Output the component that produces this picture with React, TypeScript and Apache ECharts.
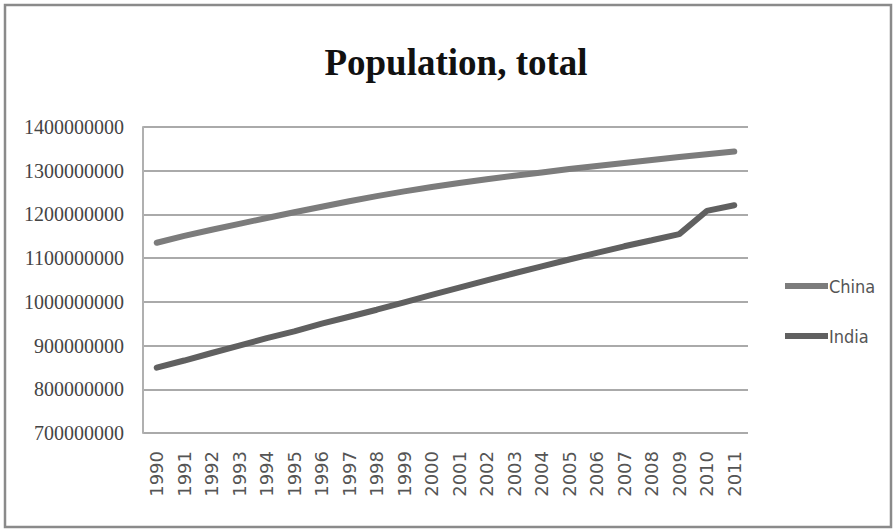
import React, { useEffect, useRef } from "react";
import * as echarts from "echarts";

const years = ["1990","1991","1992","1993","1994","1995","1996","1997","1998","1999","2000","2001","2002","2003","2004","2005","2006","2007","2008","2009","2010","2011"];
const china = [1135185000,1150780000,1164970000,1178440000,1191835000,1204855000,1217550000,1230075000,1241935000,1252735000,1262645000,1271850000,1280400000,1288400000,1296075000,1303720000,1311020000,1317885000,1324655000,1331260000,1337705000,1344130000];
const india = [849500000,865800000,883000000,900000000,917000000,932500000,950000000,966000000,982000000,999000000,1015900000,1032500000,1049000000,1065500000,1081200000,1096900000,1112200000,1127100000,1141000000,1155000000,1208000000,1221000000];
const yMin = 700000000;
const yMax = 1400000000;
const yStep = 100000000;

export default function App() {
  const ref = useRef<HTMLDivElement>(null);
  useEffect(() => {
    if (!ref.current) return;
    const chart = echarts.init(ref.current, undefined, { renderer: "svg" });
    chart.setOption({
      animation: false,
      backgroundColor: "#ffffff",
      title: {
        text: "Population, total",
        left: 451,
        textAlign: "center",
        top: 39,
        textStyle: { fontFamily: "Liberation Serif", fontWeight: "bold", fontSize: 37, color: "#111" },
      },
      graphic: [
        {
          type: "rect",
          shape: { x: 5, y: 5, width: 886, height: 522 },
          style: { fill: "none", stroke: "#8a8a8a", lineWidth: 2.5 },
          silent: true,
        },
      ],
      legend: {
        orient: "vertical",
        left: 780,
        top: 272,
        itemWidth: 43,
        itemHeight: 6,
        itemGap: 32,
        icon: "rect",
        textStyle: { fontFamily: "DejaVu Sans Condensed", fontSize: 18, color: "#555", padding: [0, 0, 0, -4] },
        data: ["China", "India"],
      },
      grid: { left: 143, right: 148, top: 127, bottom: 96, containLabel: false },
      xAxis: {
        type: "category",
        data: years,
        boundaryGap: true,
        axisLine: { show: false },
        axisTick: { show: false },
        axisLabel: { rotate: 90, margin: 18, fontFamily: "DejaVu Sans", fontSize: 18, color: "#555", interval: 0 },
      },
      yAxis: {
        type: "value",
        min: yMin,
        max: yMax,
        interval: yStep,
        axisLine: { show: true, lineStyle: { color: "#b0b0b0", width: 2 } },
        axisTick: { show: false },
        splitLine: { lineStyle: { color: "#aaaaaa", width: 2 } },
        axisLabel: {
          margin: 19,
          fontFamily: "Liberation Serif",
          fontSize: 20,
          color: "#444",
          formatter: (v: number) => String(v),
        },
      },
      series: [
        {
          name: "China",
          type: "line",
          data: china,
          showSymbol: false,
          symbol: "none",
          lineStyle: { width: 6, color: "#7c7c7c", cap: "round" },
          itemStyle: { color: "#7c7c7c" },
        },
        {
          name: "India",
          type: "line",
          data: india,
          showSymbol: false,
          symbol: "none",
          lineStyle: { width: 6, color: "#606060", cap: "round" },
          itemStyle: { color: "#606060" },
        },
      ],
    });
    return () => chart.dispose();
  }, []);
  return <div ref={ref} style={{ position: "fixed", left: 0, top: 0, width: 896, height: 529 }} />;
}
